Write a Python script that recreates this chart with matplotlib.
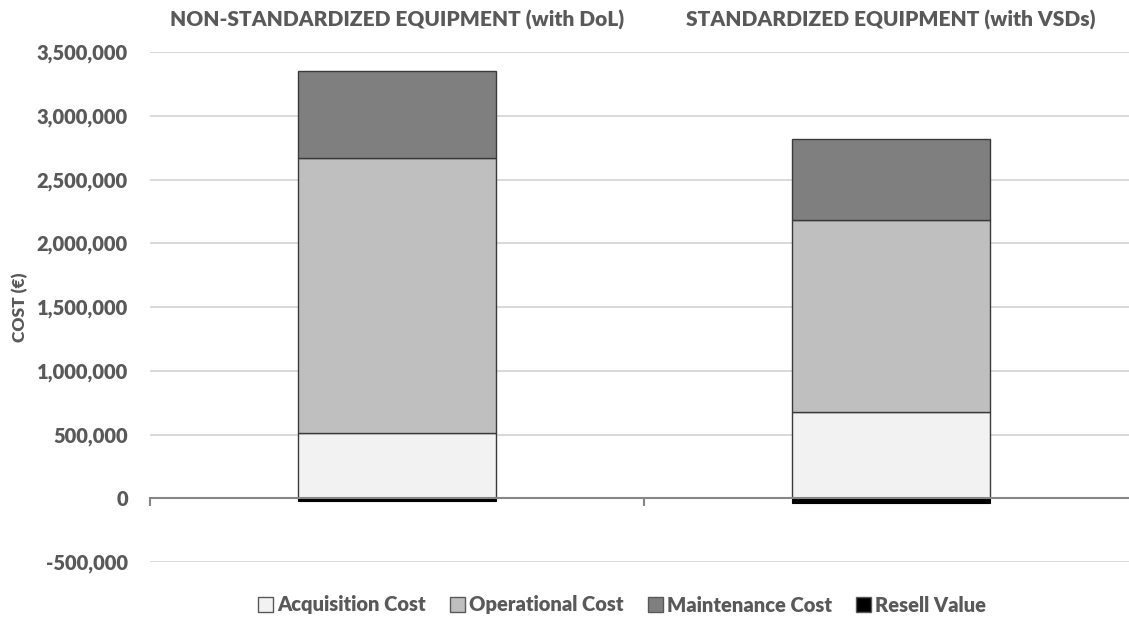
import matplotlib
matplotlib.use("Agg")
import matplotlib.pyplot as plt
import matplotlib.transforms as mtransforms
from matplotlib.patches import Patch
from matplotlib.ticker import FuncFormatter, FixedLocator

# Life-cycle cost breakdown per equipment option (EUR)
categories = ["NON-STANDARDIZED EQUIPMENT (with DoL)", "STANDARDIZED EQUIPMENT (with VSDs)"]
acquisition = [509000, 674000]
operational = [2156000, 1505000]
maintenance = [689000, 642000]
resell = [-25000, -40000]

series_names = ["Acquisition Cost", "Operational Cost", "Maintenance Cost", "Resell Value"]
colors = ["#f2f2f2", "#bfbfbf", "#7f7f7f", "#000000"]
y_ticks = [-500000, 0, 500000, 1000000, 1500000, 2000000, 2500000, 3000000, 3500000]

text_color = "#595959"
weight = "heavy"
plt.rcParams["font.family"] = ["Lato", "DejaVu Sans"]
plt.rcParams["font.weight"] = weight

fig = plt.figure(figsize=(11.29, 6.17), dpi=100)
ax = fig.add_axes([150 / 1129, 55 / 617, 988 / 1129, 510 / 617])

x = list(range(len(categories)))
width = 0.4
edge = dict(edgecolor="#3a3a3a", linewidth=1.0)

ax.bar(x, acquisition, width, color=colors[0], **edge, zorder=2)
bottom2 = acquisition
ax.bar(x, operational, width, bottom=bottom2, color=colors[1], **edge, zorder=2)
bottom3 = [a + o for a, o in zip(acquisition, operational)]
ax.bar(x, maintenance, width, bottom=bottom3, color=colors[2], **edge, zorder=2)
ax.bar(x, resell, width, color=colors[3], edgecolor="#000000", linewidth=0.8, zorder=2)

ax.set_xlim(-0.5, len(categories) - 0.5)
ax.set_ylim(min(y_ticks), max(y_ticks))
ax.set_yticks(y_ticks)
ax.yaxis.set_major_formatter(FuncFormatter(lambda v, p: f"{int(v):,}"))
ax.tick_params(axis="y", length=0, pad=16, labelsize=14.5, labelcolor=text_color)
for lbl in ax.get_yticklabels():
    lbl.set_fontweight(weight)

ax.yaxis.grid(True, color="#d9d9d9", linewidth=1.4, zorder=0)
ax.set_axisbelow(True)

for side in ["top", "right", "left"]:
    ax.spines[side].set_visible(False)
ax.spines["bottom"].set_position(("data", 0))
ax.spines["bottom"].set_color("#868686")
ax.spines["bottom"].set_linewidth(1.5)
ax.spines["bottom"].set_zorder(3)
ax.xaxis.set_major_locator(FixedLocator([i - 0.5 for i in range(len(categories) + 1)]))
ax.tick_params(axis="x", direction="out", length=6, width=1.5, color="#868686", labelbottom=False)

# category names above the plot
trans = mtransforms.blended_transform_factory(ax.transData, fig.transFigure)
for xi, name in zip(x, categories):
    ax.text(xi, 1 - 20 / 617, name, transform=trans, ha="center", va="center",
            fontsize=15, fontweight=weight, color=text_color)

fig.text(20 / 1129, 1 - 307 / 617, "COST (€)", rotation=90, ha="center", va="center",
         fontsize=12.5, fontweight=weight, color=text_color)

handles = [Patch(facecolor=c, edgecolor="#595959", linewidth=1.0, label=n)
           for c, n in zip(colors, series_names)]
leg = fig.legend(handles=handles, loc="center", bbox_to_anchor=(622 / 1129, 1 - 605 / 617),
                 ncol=4, frameon=False, handlelength=0.75, handleheight=0.75,
                 handletextpad=0.2, columnspacing=1.2,
                 prop={"size": 14.5, "weight": weight})
for t in leg.get_texts():
    t.set_color(text_color)

fig.savefig("out.png", dpi=100)
